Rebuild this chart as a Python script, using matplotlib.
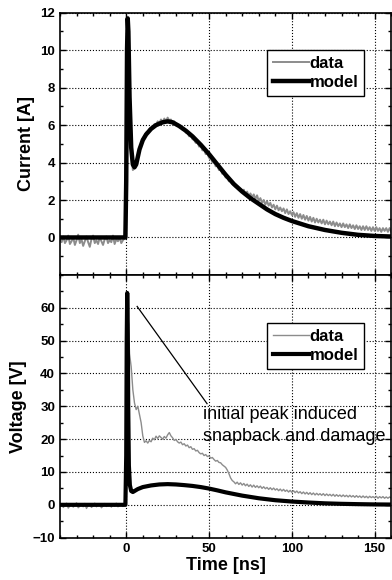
import numpy as np
import matplotlib
matplotlib.use('Agg')
import matplotlib.pyplot as plt
from matplotlib.ticker import MultipleLocator

plt.rcParams['font.family'] = ['Liberation Sans', 'DejaVu Sans']

# measured samples, 1 ns apart from -40 ns to 160 ns
t_data = np.arange(-40, 161, 1)

i_data = [
    -0.1, -0.25, 0.05, -0.3, -0.15, 0.1, -0.35, -0.2, 0.0, -0.4,
    -0.15, 0.15, -0.3, -0.1, -0.45, -0.2, 0.05, -0.25, -0.5, -0.1,
    0.1, -0.3, -0.15, -0.35, 0.0, -0.2, -0.4, -0.1, 0.05, -0.3,
    -0.15, -0.25, 0.1, -0.35, -0.1, -0.2, 0.0, -0.3, -0.15, -0.05,
    2.5, 11.3, 7.2, 4.5, 3.6, 3.7, 4.0, 4.4, 4.8, 5.0,
    5.3, 5.4, 5.6, 5.6, 5.8, 5.85, 5.9, 6.05, 6.0, 6.2,
    6.1, 6.3, 6.15, 6.35, 6.2, 6.4, 6.25, 6.3, 6.1, 6.2,
    6.0, 6.05, 5.9, 5.95, 5.75, 5.8, 5.6, 5.6, 5.4, 5.45,
    5.25, 5.2, 5.05, 5.1, 4.85, 4.9, 4.65, 4.7, 4.45, 4.5,
    4.25, 4.3, 4.0, 4.05, 3.8, 3.85, 3.6, 3.65, 3.4, 3.45,
    3.2, 3.25, 3.0, 3.05, 2.85, 2.9, 2.7, 2.75, 2.55, 2.6,
    2.45, 2.55, 2.3, 2.45, 2.2, 2.35, 2.15, 2.3, 2.05, 2.25,
    1.95, 2.1, 1.85, 2.0, 1.75, 1.95, 1.7, 1.85, 1.6, 1.75,
    1.5, 1.7, 1.45, 1.6, 1.4, 1.55, 1.3, 1.5, 1.25, 1.4,
    1.2, 1.35, 1.1, 1.3, 1.05, 1.25, 1.0, 1.2, 0.95, 1.15,
    0.9, 1.1, 0.85, 1.05, 0.8, 1.0, 0.8, 0.95, 0.75, 0.95,
    0.7, 0.9, 0.7, 0.85, 0.65, 0.85, 0.6, 0.8, 0.6, 0.75,
    0.55, 0.75, 0.55, 0.7, 0.5, 0.7, 0.5, 0.65, 0.45, 0.65,
    0.45, 0.6, 0.4, 0.6, 0.4, 0.6, 0.4, 0.55, 0.35, 0.55,
    0.35, 0.55, 0.35, 0.5, 0.3, 0.5, 0.35, 0.5, 0.3, 0.5,
    0.3,
]

v_data = [
    -0.5, 0.3, -0.8, -0.2, 0.5, -1.0, -0.3, 0.2, -0.7, -0.1,
    0.6, -0.9, -0.4, 0.1, -0.6, 0.4, -1.1, -0.2, 0.3, -0.8,
    -0.3, 0.5, -0.6, -0.1, 0.2, -0.9, -0.4, 0.4, -0.5, -0.2,
    0.3, -0.7, 0.0, -0.4, 0.5, -0.6, -0.2, 0.2, -0.5, 0.1,
    20.0, 60.0, 46.0, 42.0, 35.0, 31.0, 29.0, 30.0, 27.5, 25.0,
    21.0, 19.0, 19.5, 18.8, 19.6, 19.2, 20.3, 19.8, 20.9, 20.2,
    21.0, 20.5, 20.0, 20.8, 20.3, 21.3, 22.0, 21.0, 20.4, 19.6,
    19.9, 19.2, 18.8, 19.1, 18.3, 18.6, 17.9, 18.2, 17.4, 17.7,
    16.9, 17.1, 16.4, 16.6, 15.9, 15.5, 15.7, 15.0, 15.3, 14.7,
    14.9, 14.2, 14.4, 13.8, 13.3, 13.5, 12.9, 12.8, 12.2, 11.8,
    11.4, 10.6, 9.5, 8.2, 7.4, 7.0, 6.4, 6.9, 6.2, 6.7,
    6.0, 6.5, 5.8, 6.3, 5.6, 6.1, 5.4, 6.0, 5.3, 5.8,
    5.2, 5.7, 5.0, 5.5, 4.9, 5.3, 4.7, 5.2, 4.6, 5.1,
    4.5, 4.9, 4.3, 4.8, 4.2, 4.7, 4.1, 4.5, 3.9, 4.4,
    3.8, 4.3, 3.7, 4.2, 3.6, 4.0, 3.4, 3.9, 3.3, 3.8,
    3.2, 3.7, 3.1, 3.6, 3.0, 3.5, 3.0, 3.4, 2.9, 3.4,
    2.8, 3.3, 2.8, 3.2, 2.7, 3.2, 2.6, 3.1, 2.6, 3.0,
    2.5, 3.0, 2.5, 2.9, 2.4, 2.9, 2.4, 2.8, 2.3, 2.8,
    2.3, 2.7, 2.2, 2.7, 2.2, 2.6, 2.1, 2.6, 2.2, 2.5,
    2.1, 2.6, 2.0, 2.5, 2.1, 2.5, 2.0, 2.4, 2.0, 2.4,
    2.1,
]

# model curves
t_mod_i = [-40, -0.5, 0.0, 0.5, 0.9, 1.3, 2, 3, 4, 5, 6, 7, 8, 10, 12, 15, 18, 22,
           25, 28, 32, 36, 40, 45, 50, 55, 60, 65, 70, 75, 80, 85, 90, 95, 100,
           110, 120, 130, 140, 150, 160]
i_model = [0, 0, 3.0, 10.0, 11.7, 11.0, 7.5, 4.8, 3.9, 3.75, 3.9, 4.3, 4.7, 5.2,
           5.5, 5.8, 6.0, 6.15, 6.2, 6.15, 5.95, 5.7, 5.4, 4.95, 4.45, 3.9, 3.35,
           2.85, 2.45, 2.1, 1.8, 1.5, 1.25, 1.05, 0.88, 0.6, 0.4, 0.25, 0.14,
           0.08, 0.05]

t_mod_v = [-40, -0.5, 0.0, 0.3, 0.6, 0.9, 1.2, 1.6, 2.2, 3, 4, 5, 7, 10, 15, 20,
           25, 30, 35, 40, 45, 50, 55, 60, 65, 70, 75, 80, 85, 90, 95, 100, 110,
           120, 130, 140, 150, 160]
v_model = [0, 0, 15, 50, 64.5, 55, 30, 12, 6, 4.2, 3.9, 4.2, 4.8, 5.4, 5.9, 6.2,
           6.3, 6.2, 6.0, 5.75, 5.4, 4.95, 4.4, 3.8, 3.3, 2.8, 2.4, 2.0, 1.7, 1.4,
           1.2, 1.0, 0.7, 0.45, 0.3, 0.2, 0.12, 0.08]

gray = '#8c8c8c'

fig = plt.figure(figsize=(3.92, 5.8), dpi=100)
ax1 = fig.add_axes([0.153, 0.526, 0.845, 0.452])
ax2 = fig.add_axes([0.153, 0.073, 0.845, 0.453], sharex=ax1)

ax1.plot(t_data, i_data, color=gray, lw=1.4, label='data')
ax1.plot(t_mod_i, i_model, color='black', lw=3.2, label='model')
ax2.plot(t_data, v_data, color=gray, lw=1.0, label='data')
ax2.plot(t_mod_v, v_model, color='black', lw=3.0, label='model')

ax1.set_xlim(-40, 160)
ax1.set_ylim(-2, 12)
ax2.set_ylim(-10, 70)

ax1.set_yticks([0, 2, 4, 6, 8, 10, 12])
ax1.yaxis.set_minor_locator(MultipleLocator(1))
ax2.set_yticks([-10, 0, 10, 20, 30, 40, 50, 60])
ax2.yaxis.set_minor_locator(MultipleLocator(5))
ax2.set_xticks([0, 50, 100, 150])
ax2.xaxis.set_minor_locator(MultipleLocator(10))

for ax in (ax1, ax2):
    ax.tick_params(which='both', direction='in', top=True, right=True, width=1)
    ax.tick_params(which='major', length=4)
    ax.tick_params(which='minor', length=2.5)
    ax.grid(True, which='major', linestyle=':', color='black', lw=0.8)
    for s in ax.spines.values():
        s.set_linewidth(1.2)
    for lab in ax.get_xticklabels() + ax.get_yticklabels():
        lab.set_fontweight('bold')
        lab.set_fontsize(9.5)
    leg = ax.legend(loc='upper right', fancybox=False, edgecolor='black',
                    framealpha=1, prop={'size': 12, 'weight': 'bold'},
                    handlelength=2.2, handletextpad=0.0, borderpad=0.35,
                    labelspacing=0.25, borderaxespad=0)
    leg.get_frame().set_linewidth(1.0)
plt.setp(ax1.get_xticklabels(), visible=False)

ax1.get_legend().set_bbox_to_anchor((0.918, 0.858))
ax2.get_legend().set_bbox_to_anchor((0.918, 0.817))

ax1.set_ylabel('Current [A]', fontsize=13, fontweight='bold', labelpad=4)
ax2.set_ylabel('Voltage [V]', fontsize=13, fontweight='bold', labelpad=4)
ax2.set_xlabel('Time [ns]', fontsize=13, fontweight='bold', labelpad=2)

ax2.plot([6.6, 48.8], [60.4, 30.8], color='black', lw=0.9)
ax2.text(46.4, 30.0, 'initial peak induced\nsnapback and damage', fontsize=13,
         va='top', ha='left', linespacing=1.4)

fig.savefig('out.png', dpi=100)
